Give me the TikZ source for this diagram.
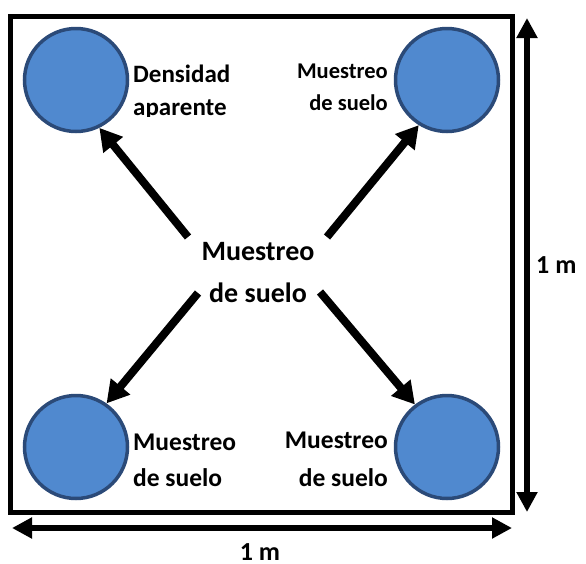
\documentclass[tikz,border=0pt]{standalone}
\usepackage{fontspec}
\setmainfont{Carlito}
\usetikzlibrary{arrows.meta}
\definecolor{pozoazul}{RGB}{80,137,207}
\definecolor{pozoborde}{RGB}{43,74,120}
\tikzset{
  pozo/.style={circle, draw=pozoborde, fill=pozoazul, line width=3.5pt, minimum size=103pt, inner sep=0pt},
  etiqueta/.style={inner sep=0pt, align=#1},
  flecha/.style={line width=8pt, -{Triangle[length=22pt,width=24pt]}},
  cota/.style={line width=6pt, {Triangle[length=20pt,width=20pt]}-{Triangle[length=20pt,width=20pt]}}
}

\begin{document}
\begin{tikzpicture}[x=1pt, y=-1pt]
  \useasboundingbox (0,0) rectangle (586,563);
  % frame
  \draw[line width=5.5pt] (10.5,16.5) rectangle (512.5,512.5);
  % sampling points
  \foreach \name/\x/\y in {tl/76/80, tr/447/80, bl/76/447, br/447/447}
    \node[pozo] (\name) at (\x,\y) {};
  % labels
  \begin{scope}
    \clip (120,40) rectangle (300,116.5);
    \node[etiqueta=left, anchor=base west, font=\fontsize{25}{33}\selectfont\bfseries] (dens) at (133,115) {Densidad\\aparente};
  \end{scope}
  \node[etiqueta=right, anchor=base east, font=\fontsize{22.5}{32}\selectfont\bfseries] (mtr) at (388,110) {Muestreo\\de suelo};
  \node[etiqueta=left, anchor=base west, font=\fontsize{25.5}{36}\selectfont\bfseries] (mbl) at (133,486) {Muestreo\\de suelo};
  \node[etiqueta=right, anchor=base east, font=\fontsize{25.5}{38}\selectfont\bfseries] (mbr) at (388,486) {Muestreo\\de suelo};
  \node[etiqueta=center, anchor=base, font=\fontsize{28}{42}\selectfont\bfseries] (centro) at (258,302) {Muestreo\\de suelo};
  % arrows
  \coordinate (a) at (188,237);
  \coordinate (b) at (327,237);
  \coordinate (c) at (198,293);
  \coordinate (d) at (320,292);
  \foreach \ini/\fin/\ang in {a/tl/-64, b/tr/-122, c/bl/55, d/br/127}
    \draw[flecha] (\ini) -- (\fin.\ang);
  % dimensions
  \coordinate (h1) at (12,528);
  \coordinate (h2) at (512,528);
  \coordinate (v1) at (527,18);
  \coordinate (v2) at (527,512);
  \draw[cota] (h1) -- (h2);
  \draw[cota] (v1) -- (v2);
  \node[anchor=base west, inner sep=0pt, font=\fontsize{26}{30}\selectfont\bfseries] (mv) at (536,273) {1 m};
  \node[anchor=base, inner sep=0pt, font=\fontsize{26}{30}\selectfont\bfseries] (mh) at (260,560) {1 m};
\end{tikzpicture}
\end{document}
